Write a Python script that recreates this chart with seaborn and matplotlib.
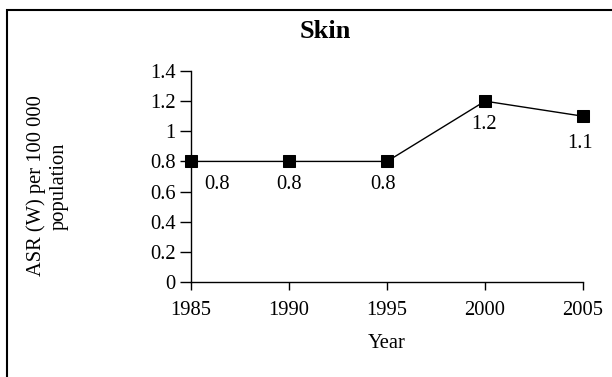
import matplotlib
matplotlib.use("Agg")
import matplotlib.pyplot as plt
import matplotlib.ticker as mticker
from matplotlib.patches import Rectangle
import seaborn as sns
import pandas as pd

years = [1985, 1990, 1995, 2000, 2005]
asr = [0.8, 0.8, 0.8, 1.2, 1.1]
y_ticks = [0, 0.2, 0.4, 0.6, 0.8, 1.0, 1.2, 1.4]

sns.set_theme(style="ticks")
plt.rcParams["font.family"] = ["Liberation Serif", "DejaVu Serif"]

df = pd.DataFrame({"Year": years, "ASR": asr})

W, H = 612, 377
fig = plt.figure(figsize=(W / 100, H / 100), dpi=100)
ax = fig.add_axes([191 / W, (H - 282) / H, 392 / W, 211 / H])

sns.lineplot(data=df, x="Year", y="ASR", ax=ax, color="black", linewidth=1.0,
             marker="s", markersize=9, markeredgecolor="black",
             markerfacecolor="black", clip_on=False)

# value labels under each point (offsets in points)
offsets = [(18.5, -16.5), (0, -16.5), (-3, -16.5), (-1, -16.5), (-2, -19.5)]
for (x, y), (dx, dy) in zip(zip(years, asr), offsets):
    ax.annotate(f"{y:g}", (x, y), xytext=(dx, dy), textcoords="offset points",
                ha="center", va="center", fontsize=14.8, color="black")

ax.set_xlim(1985, 2005)
ax.set_ylim(0, 1.4)
ax.set_xticks(years)
ax.set_yticks(y_ticks)
ax.yaxis.set_major_formatter(mticker.FuncFormatter(lambda v, p: f"{v:g}"))
ax.tick_params(axis="both", labelsize=14.8, width=1.0, color="black",
               labelcolor="black", direction="out")
ax.tick_params(axis="x", length=6, pad=7.5)
ax.tick_params(axis="y", length=8, pad=3)
for side in ["top", "right"]:
    ax.spines[side].set_visible(False)
for side in ["left", "bottom"]:
    ax.spines[side].set_color("black")
    ax.spines[side].set_linewidth(1.0)

ax.set_xlabel("Year", fontsize=14.8, color="black")
ax.xaxis.set_label_coords(0.5, -(343 - 282) / 211)
ax.xaxis.label.set_va("center")
ax.set_ylabel("")

fig.text(47.5 / W, 1 - 186 / H, "ASR (W) per 100 000\npopulation",
         rotation=90, ha="center", va="center", fontsize=14.8,
         color="black", linespacing=1.2)

fig.text(325 / W, 1 - 32 / H, "Skin", ha="center", va="center",
         fontsize=19, fontweight="bold", color="black")

# outer frame
fig.patches.append(Rectangle((7 / W, -0.05), 1.0, 1 - 10 / H + 0.05,
                             transform=fig.transFigure, fill=False,
                             edgecolor="black", linewidth=1.5))

fig.savefig("out.png", dpi=100, facecolor="white")
